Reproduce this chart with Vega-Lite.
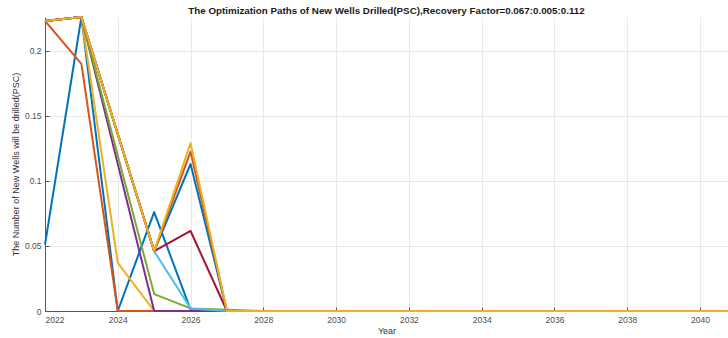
{
  "$schema": "https://vega.github.io/schema/vega-lite/v6.json",
  "width": 683,
  "height": 294,
  "autosize": "none",
  "padding": {"left": 45, "top": 17, "right": 0, "bottom": 27},
  "background": "white",
  "title": {
    "text": "The Optimization Paths of New Wells Drilled(PSC),Recovery Factor=0.067:0.005:0.112",
    "font": "Liberation Sans",
    "fontSize": 9.8,
    "fontWeight": "bold",
    "color": "#1a1a1a",
    "anchor": "middle",
    "frame": "group",
    "offset": 0
  },
  "config": {
    "view": {"stroke": null},
    "axis": {
      "labelFont": "Liberation Sans",
      "titleFont": "Liberation Sans",
      "labelFontSize": 8.5,
      "titleFontSize": 9,
      "labelColor": "#4d4d4d",
      "titleColor": "#333333",
      "titleFontWeight": "normal",
      "domainColor": "#555555",
      "tickColor": "#555555",
      "gridColor": "#e3e3e3",
      "gridWidth": 0.8
    }
  },
  "data": {
    "values": [
      {"year": 2022, "s01": 0.051, "s02": 0.223, "s03": 0.223, "s04": 0.223, "s05": 0.223, "s06": 0.223, "s07": 0.223, "s08": 0.223, "s09": 0.223, "s10": 0.223},
      {"year": 2023, "s01": 0.226, "s02": 0.19, "s03": 0.226, "s04": 0.226, "s05": 0.226, "s06": 0.226, "s07": 0.226, "s08": 0.226, "s09": 0.226, "s10": 0.226},
      {"year": 2024, "s01": 0, "s02": 0, "s03": 0.037, "s04": 0.113, "s05": 0.1195, "s06": 0.136, "s07": 0.136, "s08": 0.136, "s09": 0.136, "s10": 0.136},
      {"year": 2025, "s01": 0.076, "s02": 0, "s03": 0, "s04": 0, "s05": 0.013, "s06": 0.046, "s07": 0.046, "s08": 0.046, "s09": 0.046, "s10": 0.046},
      {"year": 2026, "s01": 0.001, "s02": 0, "s03": 0, "s04": 0, "s05": 0.002, "s06": 0.002, "s07": 0.0615, "s08": 0.113, "s09": 0.1225, "s10": 0.129},
      {"year": 2027, "s01": 0, "s02": 0, "s03": 0, "s04": 0, "s05": 0.001, "s06": 0, "s07": 0, "s08": 0, "s09": 0, "s10": 0},
      {"year": 2028, "s01": 0, "s02": 0, "s03": 0, "s04": 0, "s05": 0, "s06": 0, "s07": 0, "s08": 0, "s09": 0, "s10": 0},
      {"year": 2029, "s01": 0, "s02": 0, "s03": 0, "s04": 0, "s05": 0, "s06": 0, "s07": 0, "s08": 0, "s09": 0, "s10": 0},
      {"year": 2030, "s01": 0, "s02": 0, "s03": 0, "s04": 0, "s05": 0, "s06": 0, "s07": 0, "s08": 0, "s09": 0, "s10": 0},
      {"year": 2031, "s01": 0, "s02": 0, "s03": 0, "s04": 0, "s05": 0, "s06": 0, "s07": 0, "s08": 0, "s09": 0, "s10": 0},
      {"year": 2032, "s01": 0, "s02": 0, "s03": 0, "s04": 0, "s05": 0, "s06": 0, "s07": 0, "s08": 0, "s09": 0, "s10": 0},
      {"year": 2033, "s01": 0, "s02": 0, "s03": 0, "s04": 0, "s05": 0, "s06": 0, "s07": 0, "s08": 0, "s09": 0, "s10": 0},
      {"year": 2034, "s01": 0, "s02": 0, "s03": 0, "s04": 0, "s05": 0, "s06": 0, "s07": 0, "s08": 0, "s09": 0, "s10": 0},
      {"year": 2035, "s01": 0, "s02": 0, "s03": 0, "s04": 0, "s05": 0, "s06": 0, "s07": 0, "s08": 0, "s09": 0, "s10": 0},
      {"year": 2036, "s01": 0, "s02": 0, "s03": 0, "s04": 0, "s05": 0, "s06": 0, "s07": 0, "s08": 0, "s09": 0, "s10": 0},
      {"year": 2037, "s01": 0, "s02": 0, "s03": 0, "s04": 0, "s05": 0, "s06": 0, "s07": 0, "s08": 0, "s09": 0, "s10": 0},
      {"year": 2038, "s01": 0, "s02": 0, "s03": 0, "s04": 0, "s05": 0, "s06": 0, "s07": 0, "s08": 0, "s09": 0, "s10": 0},
      {"year": 2039, "s01": 0, "s02": 0, "s03": 0, "s04": 0, "s05": 0, "s06": 0, "s07": 0, "s08": 0, "s09": 0, "s10": 0},
      {"year": 2040, "s01": 0, "s02": 0, "s03": 0, "s04": 0, "s05": 0, "s06": 0, "s07": 0, "s08": 0, "s09": 0, "s10": 0},
      {"year": 2041, "s01": 0, "s02": 0, "s03": 0, "s04": 0, "s05": 0, "s06": 0, "s07": 0, "s08": 0, "s09": 0, "s10": 0}
    ]
  },
  "transform": [
    {"fold": ["s01", "s02", "s03", "s04", "s05", "s06", "s07", "s08", "s09", "s10"], "as": ["series", "wells"]}
  ],
  "mark": {"type": "line", "strokeWidth": 2, "strokeJoin": "round", "clip": false},
  "encoding": {
    "x": {
      "field": "year",
      "type": "quantitative",
      "scale": {"domain": [2022, 2040.77], "nice": false, "zero": false},
      "axis": {
        "title": "Year",
        "values": [2022, 2024, 2026, 2028, 2030, 2032, 2034, 2036, 2038, 2040],
        "format": "d",
        "tickSize": -4,
        "labelPadding": 8,
        "titlePadding": 3,
        "grid": true
      }
    },
    "y": {
      "field": "wells",
      "type": "quantitative",
      "scale": {"domain": [0, 0.226], "nice": false},
      "axis": {
        "title": "The Number of New Wells will be drilled(PSC)",
        "values": [0, 0.05, 0.1, 0.15, 0.2],
        "format": ".2~f",
        "tickSize": -4,
        "labelPadding": 8,
        "titlePadding": 4,
        "grid": true
      }
    },
    "color": {
      "field": "series",
      "type": "nominal",
      "legend": null,
      "scale": {
        "domain": ["s01", "s02", "s03", "s04", "s05", "s06", "s07", "s08", "s09", "s10"],
        "range": ["#0072BD", "#D95319", "#EDB120", "#7E2F8E", "#77AC30", "#4DBEEE", "#A2142F", "#0072BD", "#D95319", "#EDB120"]
      }
    },
    "order": {"field": "year", "type": "quantitative"}
  }
}
